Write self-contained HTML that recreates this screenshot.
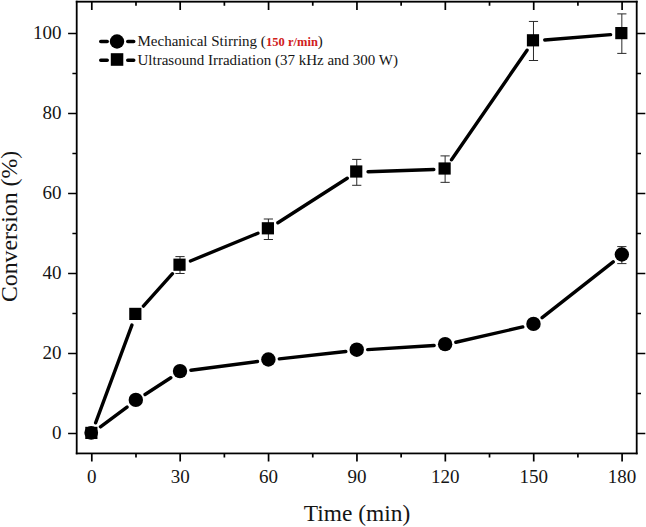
<!DOCTYPE html>
<html><head><meta charset="utf-8"><title>Chart</title>
<style>html,body{margin:0;padding:0;background:#fff}body{width:646px;height:527px;overflow:hidden;font-family:"Liberation Serif",serif}</style>
</head><body>
<svg width="646" height="527" viewBox="0 0 646 527" style="display:block">
<rect width="646" height="527" fill="#fff"/>
<rect x="75.8" y="0.75" width="561.8" height="1.85" fill="#000"/>
<rect x="75.8" y="452.55" width="561.8" height="1.75" fill="#000"/>
<rect x="75.8" y="0.75" width="1.8" height="453.55" fill="#000"/>
<rect x="635.8" y="0.75" width="1.8" height="453.55" fill="#000"/>
<path d="M91.80 453.4v8.2M91.80 1.68v8.2M135.99 453.4v4.0M135.99 1.68v4.0M180.18 453.4v8.2M180.18 1.68v8.2M224.38 453.4v4.0M224.38 1.68v4.0M268.57 453.4v8.2M268.57 1.68v8.2M312.76 453.4v4.0M312.76 1.68v4.0M356.95 453.4v8.2M356.95 1.68v8.2M401.14 453.4v4.0M401.14 1.68v4.0M445.33 453.4v8.2M445.33 1.68v8.2M489.52 453.4v4.0M489.52 1.68v4.0M533.72 453.4v8.2M533.72 1.68v8.2M577.91 453.4v4.0M577.91 1.68v4.0M622.10 453.4v8.2M622.10 1.68v8.2M76.7 433.50h-8.6M636.7 433.50h8.6M76.7 393.50h-4.3M636.7 393.50h4.3M76.7 353.50h-8.6M636.7 353.50h8.6M76.7 313.50h-4.3M636.7 313.50h4.3M76.7 273.50h-8.6M636.7 273.50h8.6M76.7 233.50h-4.3M636.7 233.50h4.3M76.7 193.50h-8.6M636.7 193.50h8.6M76.7 153.50h-4.3M636.7 153.50h4.3M76.7 113.50h-8.6M636.7 113.50h8.6M76.7 73.50h-4.3M636.7 73.50h4.3M76.7 33.50h-8.6M636.7 33.50h8.6" stroke="#000" stroke-width="1.7" fill="none"/>
<path d="M95.59 422.83L131.90 325.09M143.38 306.09L172.46 273.71M190.46 261.00L257.93 233.20M277.89 222.79L347.24 178.21M368.04 171.72L433.82 169.48M451.52 159.80L527.06 50.20M544.74 39.98L610.58 34.62" stroke="#000" stroke-width="3.4" stroke-linecap="round" fill="none"/>
<path d="M100.47 426.85L127.01 407.07M145.05 394.49L170.80 377.71M190.92 370.27L257.47 361.53M279.31 358.89L345.81 351.51M367.72 349.61L434.13 345.43M455.83 342.28L522.75 326.96M542.13 317.71L613.19 261.89" stroke="#000" stroke-width="3.4" stroke-linecap="round" fill="none"/>
<path d="M180.01 256.60V273.50M175.41 256.60h9.2M175.41 273.50h9.2M268.38 219.00V239.50M263.78 219.00h9.2M263.78 239.50h9.2M356.75 159.40V185.30M352.14 159.40h9.2M352.14 185.30h9.2M445.11 155.90V182.35M440.51 155.90h9.2M440.51 182.35h9.2M533.48 21.45V60.50M528.88 21.45h9.2M528.88 60.50h9.2M621.84 13.90V53.40M617.24 13.90h9.2M617.24 53.40h9.2M621.84 246.60V263.60M617.24 246.60h9.2M617.24 263.60h9.2" stroke="#2a2a2a" stroke-width="1" fill="none"/>
<rect x="85.25" y="426.8" width="12.2" height="12.2" fill="#000"/>
<rect x="129.23" y="307.80" width="12.2" height="12.2" fill="#000"/>
<rect x="173.41" y="258.60" width="12.2" height="12.2" fill="#000"/>
<rect x="261.78" y="222.20" width="12.2" height="12.2" fill="#000"/>
<rect x="350.14" y="165.40" width="12.2" height="12.2" fill="#000"/>
<rect x="438.51" y="162.40" width="12.2" height="12.2" fill="#000"/>
<rect x="526.88" y="34.20" width="12.2" height="12.2" fill="#000"/>
<rect x="615.24" y="27.00" width="12.2" height="12.2" fill="#000"/>
<circle cx="91.2" cy="432.8" r="6.85" fill="#000"/>
<circle cx="135.83" cy="399.90" r="7.2" fill="#000"/>
<circle cx="180.01" cy="371.10" r="7.2" fill="#000"/>
<circle cx="268.38" cy="359.50" r="7.2" fill="#000"/>
<circle cx="356.75" cy="349.70" r="7.2" fill="#000"/>
<circle cx="445.11" cy="344.14" r="7.2" fill="#000"/>
<circle cx="533.48" cy="323.90" r="7.2" fill="#000"/>
<circle cx="621.84" cy="254.50" r="7.2" fill="#000"/>
<path d="M100.8 41.5H107.2M127.8 41.5H133.7" stroke="#000" stroke-width="3.6" stroke-linecap="round"/>
<circle cx="117" cy="41.5" r="7.2" fill="#000"/>
<path d="M100.8 60.3H107.2M127.8 60.3H133.7" stroke="#000" stroke-width="3.6" stroke-linecap="round"/>
<rect x="110.8" y="53.2" width="12.5" height="12.6" fill="#000"/>
<g style="font-family:'Liberation Serif',serif" fill="#151515">
<text x="137.5" y="46.0" font-size="15" id="l1">Mechanical Stirring (<tspan fill="#d0201a" font-weight="bold" font-size="12.5" dx="0.3" id="red">150 r/min</tspan>)</text>
<text x="137.5" y="64.8" font-size="15" id="l2">Ultrasound Irradiation (37 kHz and 300 W)</text>
<text x="91.80" y="482.5" font-size="19" text-anchor="middle">0</text>
<text x="180.18" y="482.5" font-size="19" text-anchor="middle">30</text>
<text x="268.57" y="482.5" font-size="19" text-anchor="middle">60</text>
<text x="356.95" y="482.5" font-size="19" text-anchor="middle">90</text>
<text x="445.33" y="482.5" font-size="19" text-anchor="middle">120</text>
<text x="533.72" y="482.5" font-size="19" text-anchor="middle">150</text>
<text x="622.10" y="482.5" font-size="19" text-anchor="middle">180</text>
<text x="61.6" y="439.40" font-size="19" text-anchor="end">0</text>
<text x="61.6" y="359.40" font-size="19" text-anchor="end">20</text>
<text x="61.6" y="279.40" font-size="19" text-anchor="end">40</text>
<text x="61.6" y="199.40" font-size="19" text-anchor="end">60</text>
<text x="61.6" y="119.40" font-size="19" text-anchor="end">80</text>
<text x="61.6" y="39.40" font-size="19" text-anchor="end">100</text>
<text x="357" y="521.1" font-size="23.4" text-anchor="middle" id="xl">Time (min)</text>
<text transform="translate(17.1 226.4) rotate(-90)" font-size="23.8" text-anchor="middle" id="yl">Conversion (%)</text>
</g>
</svg>
</body></html>
